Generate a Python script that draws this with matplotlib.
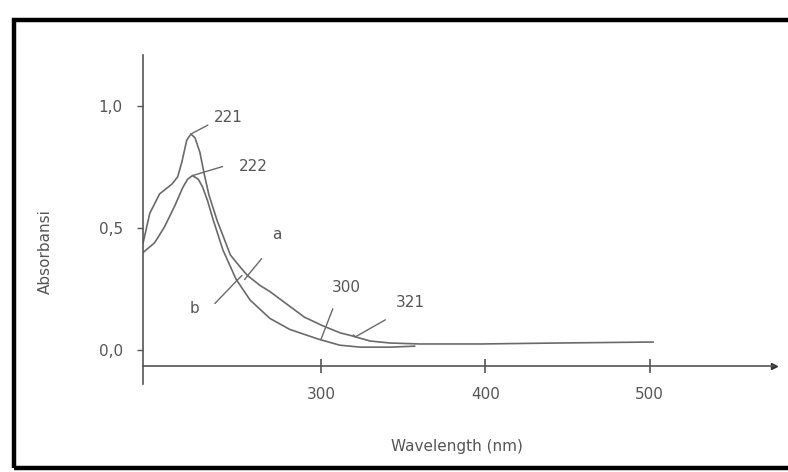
import numpy as np
import matplotlib
matplotlib.use("Agg")
import matplotlib.pyplot as plt
from matplotlib.patches import Rectangle

# UV spectra of the two samples (wavelength in nm, absorbance)
a_nm = [192, 196, 202, 209.5, 213, 215.5, 218.5, 221, 223.5, 226.5, 229, 232, 237,
        245, 251, 255.5, 263, 269, 281, 290, 301, 312, 318, 330, 342, 360, 397, 445, 502]
a_abs = [0.44, 0.56, 0.64, 0.68, 0.71, 0.77, 0.86, 0.885, 0.87, 0.81, 0.725, 0.635, 0.53,
         0.39, 0.34, 0.305, 0.265, 0.24, 0.18, 0.135, 0.10, 0.07, 0.06, 0.037, 0.029,
         0.025, 0.025, 0.029, 0.033]

b_nm = [192, 199, 205, 211.5, 216, 219, 222, 225.5, 228, 231, 234.5, 240.5, 248.5,
        257, 269, 281, 287.5, 298.5, 311.5, 324, 342, 357]
b_abs = [0.40, 0.44, 0.505, 0.595, 0.665, 0.70, 0.715, 0.70, 0.67, 0.615, 0.535, 0.41,
         0.29, 0.205, 0.13, 0.085, 0.07, 0.045, 0.02, 0.012, 0.012, 0.016]

x_ticks = [300, 400, 500]
y_ticks = [0.0, 0.5, 1.0]
y_tick_labels = ["0,0", "0,5", "1,0"]

# marked wavelengths
peak_a, peak_b = 221, 222
mark_b, mark_a = 300, 321

plt.rcParams["font.family"] = "DejaVu Sans"
ink = "#555555"
line_c = "#6a6a6a"

W, H = 788, 472
fig = plt.figure(figsize=(W / 100, H / 100), dpi=100)

# frame around the whole figure
fig.patches.append(Rectangle((14 / W, 1 - 468 / H), 800 / W, (468 - 20) / H,
                             transform=fig.transFigure, fill=False,
                             edgecolor="black", lw=3.2))

ax = fig.add_axes([143 / W, 1 - 384 / H, (774 - 143) / W, (384 - 55) / H])
ax.set_xlim(191.9, 575.5)
ax.set_ylim(-0.139, 1.209)
x_axis_y = -0.066

ax.plot(a_nm, a_abs, color=line_c, lw=1.2)
ax.plot(b_nm, b_abs, color=line_c, lw=1.2)

for s in ["top", "right"]:
    ax.spines[s].set_visible(False)
ax.spines["bottom"].set_position(("data", x_axis_y))
for s in ["left", "bottom"]:
    ax.spines[s].set_color(ink)
    ax.spines[s].set_linewidth(1.2)

ax.set_xticks(x_ticks)
ax.set_xticklabels([str(v) for v in x_ticks])
ax.set_yticks(y_ticks)
ax.set_yticklabels(y_tick_labels)
ax.tick_params(axis="x", direction="inout", length=10, width=1.2, color=ink,
               labelcolor=ink, labelsize=11, pad=10)
ax.tick_params(axis="y", direction="out", length=4.5, width=1.0, color=ink,
               labelcolor=ink, labelsize=11, pad=10)

# arrow heads on the axes
ax.plot(1, x_axis_y, ">", color="#333333", ms=5, transform=ax.get_yaxis_transform(),
        clip_on=False)
ax.plot(0, 1, "^", color="#333333", ms=5, transform=ax.get_xaxis_transform(),
        clip_on=False)


def leader(xy, start, end, label, text_off, ha="center"):
    # line from offset start to offset end (pixels) around a point on a curve
    ax.annotate("", xy=xy, xycoords="data", xytext=end, textcoords="offset pixels",
                arrowprops=dict(arrowstyle="-", color=line_c, lw=1.0,
                                shrinkA=0, shrinkB=0))
    if start != (0, 0):
        ax.annotate("", xy=xy, xycoords="data", xytext=start, textcoords="offset pixels",
                    arrowprops=dict(arrowstyle="-", color=line_c, lw=1.0,
                                    shrinkA=0, shrinkB=0))
    ax.annotate(label, xy=xy, xycoords="data", xytext=text_off,
                textcoords="offset pixels", ha=ha, va="center", color=ink, fontsize=11)


ia = int(np.argmax(a_abs))
ib = int(np.argmax(b_abs))
leader((a_nm[ia], a_abs[ia]), (0, 0), (17, 9), str(peak_a), (37, 17))
leader((b_nm[ib], b_abs[ib]), (0, 0), (30, 9), str(peak_b), (61, 9))
leader((255.5, np.interp(255.5, a_nm, a_abs)), (-3, -4), (14, 17), "a", (29, 41))
leader((249, np.interp(249, b_nm, b_abs)), (-22, -23), (5, 5), "b", (-42, -28))
leader((mark_b, np.interp(mark_b, b_nm, b_abs)), (0, 0), (12, 31), str(mark_b), (25, 52))
leader((mark_a, np.interp(mark_a, a_nm, a_abs)), (-2, 2), (30, 17), str(mark_a), (55, 34))

fig.text(45 / W, 1 - 252 / H, "Absorbansi", rotation=90, ha="center", va="center",
         color=ink, fontsize=11)
fig.text(457 / W, 1 - 447 / H, "Wavelength (nm)", ha="center", va="center",
         color=ink, fontsize=11)

fig.savefig("out.png", dpi=100, facecolor="white")
